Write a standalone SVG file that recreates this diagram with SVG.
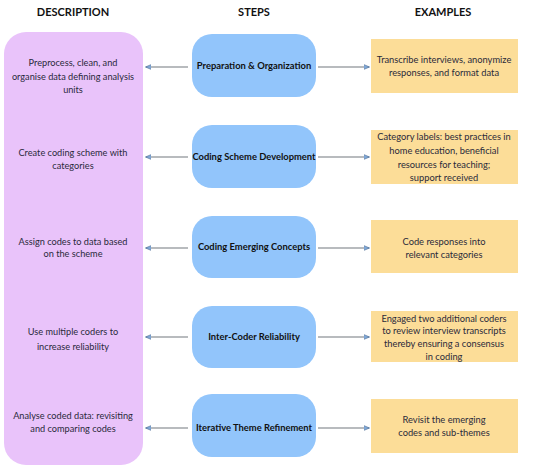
<svg xmlns="http://www.w3.org/2000/svg" width="550" height="471" viewBox="0 0 550 471">
<style>
text{font-family:Lato,"Liberation Sans",sans-serif;text-anchor:middle;fill:#2a2a3a}
.h{font-size:11px;font-weight:bold;fill:#111}
.d{font-size:9.2px}
.s{font-size:9.4px;font-weight:bold;fill:#111}
.e{font-size:9.3px}
.desc{fill:#E9C3FA}
.step{fill:#92C5FB}
.ex{fill:#FCDD98}
.c line{stroke:#a0a4a8;stroke-width:1.3;fill:none}
</style>
<defs>
<marker id="ah" viewBox="0 0 10 10" refX="9" refY="5" markerWidth="6" markerHeight="6" orient="auto-start-reverse" markerUnits="userSpaceOnUse">
<path d="M0,0.8 L10,5 L0,9.2 Z" fill="#7fa8d8" stroke="#4a6a90" stroke-width="1"/>
</marker>
</defs>
<rect width="550" height="471" fill="#fff"/>
<g id="headers">
<text class="h" x="73" y="16">DESCRIPTION</text>
<text class="h" x="254" y="16">STEPS</text>
<text class="h" x="443" y="16">EXAMPLES</text>
</g>
<g id="description">
<rect class="desc" x="4" y="32" width="139" height="433" rx="22"/>
<text class="d" x="73" y="66">Preprocess, clean, and</text>
<text class="d" x="73" y="80">organise data defining analysis</text>
<text class="d" x="73" y="93">units</text>
<text class="d" x="73" y="156">Create coding scheme with</text>
<text class="d" x="73" y="169">categories</text>
<text class="d" x="73" y="245">Assign codes to data based</text>
<text class="d" x="73" y="257">on the scheme</text>
<text class="d" x="73" y="335">Use multiple coders to</text>
<text class="d" x="73" y="350">increase reliability</text>
<text class="d" x="73" y="419">Analyse coded data: revisiting</text>
<text class="d" x="73" y="432">and comparing codes</text>
</g>
<g id="step1"><rect class="step" x="192" y="34" width="124" height="63" rx="20"/><text class="s" x="254" y="69">Preparation &amp; Organization</text></g>
<g id="step2"><rect class="step" x="192" y="125" width="124" height="63" rx="20"/><text class="s" x="254" y="160">Coding Scheme Development</text></g>
<g id="step3"><rect class="step" x="192" y="216" width="124" height="62" rx="20"/><text class="s" x="254" y="250">Coding Emerging Concepts</text></g>
<g id="step4"><rect class="step" x="192" y="306" width="124" height="62" rx="20"/><text class="s" x="254" y="340">Inter-Coder Reliability</text></g>
<g id="step5"><rect class="step" x="192" y="394" width="124" height="63" rx="20"/><text class="s" x="254" y="431">Iterative Theme Refinement</text></g>
<g id="ex1"><rect class="ex" x="371" y="39" width="147" height="54"/>
<text class="e" x="444" y="63">Transcribe interviews, anonymize</text>
<text class="e" x="444" y="76">responses, and format data</text></g>
<g id="ex2"><rect class="ex" x="371" y="130" width="147" height="54"/>
<text class="e" x="444" y="140">Category labels: best practices in</text>
<text class="e" x="444" y="154">home education, beneficial</text>
<text class="e" x="444" y="168">resources for teaching;</text>
<text class="e" x="444" y="181">support received</text></g>
<g id="ex3"><rect class="ex" x="371" y="220" width="147" height="53"/>
<text class="e" x="444" y="245">Code responses into</text>
<text class="e" x="444" y="258">relevant categories</text></g>
<g id="ex4"><rect class="ex" x="371" y="311" width="147" height="51"/>
<text class="e" x="444" y="322">Engaged two additional coders</text>
<text class="e" x="444" y="334">to review interview transcripts</text>
<text class="e" x="444" y="347">thereby ensuring a consensus</text>
<text class="e" x="444" y="360">in coding</text></g>
<g id="ex5"><rect class="ex" x="371" y="399" width="147" height="54"/>
<text class="e" x="444" y="423">Revisit the emerging</text>
<text class="e" x="444" y="436">codes and sub-themes</text></g>
<g id="connectors" class="c">
<line x1="188" y1="67" x2="146" y2="67" marker-end="url(#ah)"/>
<line x1="318" y1="67" x2="369" y2="67" marker-end="url(#ah)"/>
<line x1="188" y1="157" x2="146" y2="157" marker-end="url(#ah)"/>
<line x1="318" y1="157" x2="369" y2="157" marker-end="url(#ah)"/>
<line x1="188" y1="248" x2="146" y2="248" marker-end="url(#ah)"/>
<line x1="318" y1="248" x2="369" y2="248" marker-end="url(#ah)"/>
<line x1="188" y1="337" x2="146" y2="337" marker-end="url(#ah)"/>
<line x1="318" y1="337" x2="369" y2="337" marker-end="url(#ah)"/>
<line x1="188" y1="428" x2="146" y2="428" marker-end="url(#ah)"/>
<line x1="318" y1="428" x2="369" y2="428" marker-end="url(#ah)"/>
</g>
</svg>
